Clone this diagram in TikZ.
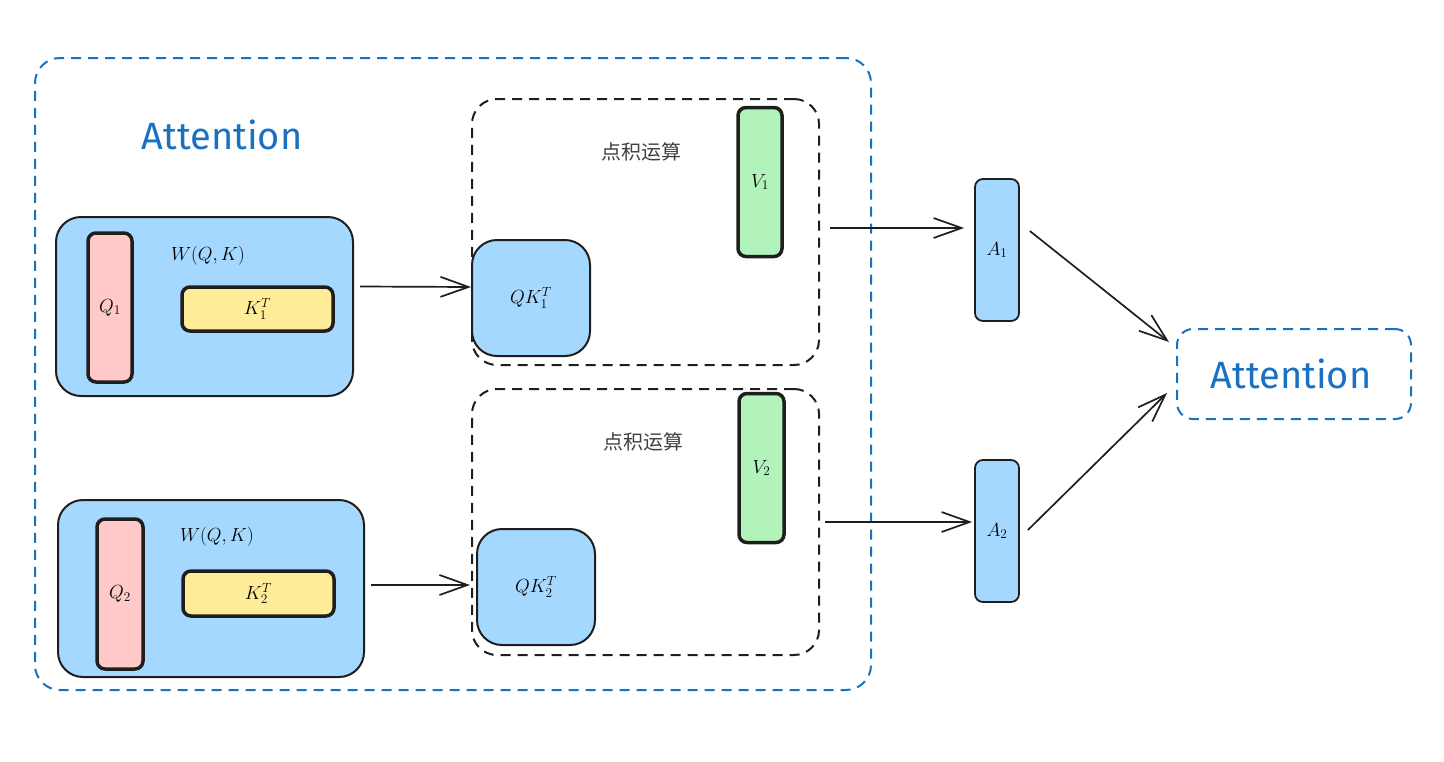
\RequirePackage{fix-cm}
\documentclass[tikz,border=0pt]{standalone}
\usepackage{fontspec}
\newfontfamily\cjk{Noto Sans CJK SC}
\newfontfamily\hand{Fira Sans}
\usetikzlibrary{arrows.meta}
\definecolor{stroke}{HTML}{1E1E1E}
\definecolor{bluefill}{HTML}{A5D8FF}
\definecolor{redfill}{HTML}{FFC9C9}
\definecolor{yellowfill}{HTML}{FFEC99}
\definecolor{greenfill}{HTML}{B2F2BB}
\definecolor{bluestroke}{HTML}{1971C2}
\tikzset{
  every node/.style={inner sep=0pt, font=\fontsize{19}{22}\selectfont},
  bigbox/.style={draw=stroke, line width=2pt, fill=bluefill, rounded corners=25pt},
  qbox/.style={draw=stroke, line width=3.5pt, fill=redfill, rounded corners=8pt},
  kbox/.style={draw=stroke, line width=3.5pt, fill=yellowfill, rounded corners=8pt},
  vbox/.style={draw=stroke, line width=3.5pt, fill=greenfill, rounded corners=8pt},
  qkbox/.style={draw=stroke, line width=2pt, fill=bluefill, rounded corners=25pt},
  abox/.style={draw=stroke, line width=1.8pt, fill=bluefill, rounded corners=8pt},
  dotbox/.style={draw=stroke, line width=2pt, dash pattern=on 10pt off 7pt, rounded corners=25pt},
  outerbox/.style={draw=bluestroke, line width=2pt, dash pattern=on 10pt off 7pt, rounded corners=25pt},
  attbox/.style={draw=bluestroke, line width=2pt, dash pattern=on 10pt off 7pt, rounded corners=16pt},
  titletext/.style={text=bluestroke, font=\hand\fontsize{38}{40}\selectfont},
  cjktext/.style={text=stroke!85, font=\cjk\fontsize{20}{22}\selectfont},
  arr/.style={draw=stroke, line width=1.7pt, -{Straight Barb[length=28pt,width=20pt,line width=1.7pt]}},
}
\begin{document}
\begin{tikzpicture}[x=1pt,y=-1pt]
\useasboundingbox (0,0) rectangle (1444,761);
% outer dashed
\node[outerbox, minimum width=836pt, minimum height=632pt] (outer) at (453,374) {};
\node[titletext] (title1) at (222,135) {Attention};
% W boxes
\node[bigbox, minimum width=297pt, minimum height=179pt] (w1) at (204.5,306.5) {};
\node[bigbox, minimum width=306pt, minimum height=177pt] (w2) at (211,588.5) {};
\node (wl1) at (208,256) {$W(Q,K)$};
\node (wl2) at (217,537) {$W(Q,K)$};
\node[qbox, minimum width=44pt, minimum height=149pt] (q1) at (110,307.5) {$Q_1$};
\node[kbox, minimum width=151pt, minimum height=44pt] (k1) at (257.5,309) {$K_1^T$};
\node[qbox, minimum width=46pt, minimum height=150pt] (q2) at (120,594) {$Q_2$};
\node[kbox, minimum width=151pt, minimum height=45pt] (k2) at (258.5,593.5) {$K_2^T$};
% dot product boxes
\node[dotbox, minimum width=347pt, minimum height=266pt] (d1) at (645.5,232) {};
\node[dotbox, minimum width=347pt, minimum height=266pt] (d2) at (645.5,522) {};
\node[cjktext] (c1) at (641,152) {点积运算};
\node[cjktext] (c2) at (643,442) {点积运算};
\node[vbox, minimum width=44pt, minimum height=149pt] (v1) at (760,182) {$V_1$};
\node[vbox, minimum width=45pt, minimum height=149pt] (v2) at (761.5,468) {$V_2$};
\node[qkbox, minimum width=118pt, minimum height=116pt] (qk1) at (531,298) {$QK_1^T$};
\node[qkbox, minimum width=118pt, minimum height=116pt] (qk2) at (536,587) {$QK_2^T$};
% A boxes
\node[abox, minimum width=44pt, minimum height=142pt] (a1) at (997,250) {$A_1$};
\node[abox, minimum width=44pt, minimum height=142pt] (a2) at (997,531) {$A_2$};
% final
\node[attbox, minimum width=234pt, minimum height=90pt] (att) at (1294,374) {};
\node[titletext] (title2) at (1291,374) {Attention};
% arrows
\draw[arr] ([xshift=6pt,yshift=20pt]w1.east) -- ([yshift=11pt]qk1.west);
\draw[arr] ([xshift=6pt,yshift=3.5pt]w2.east) -- ([xshift=-6pt,yshift=2pt]qk2.west);
\draw[arr] ([xshift=10pt,yshift=4pt]d1.east) -- ([xshift=-10pt,yshift=22pt]a1.west);
\draw[arr] ([xshift=5pt]d2.east) -- ([xshift=-2pt,yshift=9pt]a2.west);
\draw[arr] ([xshift=10pt,yshift=19pt]a1.east) -- ([xshift=-7pt,yshift=32pt]att.west);
\draw[arr] ([xshift=8pt,yshift=1pt]a2.east) -- ([xshift=-9pt,yshift=-19pt]att.west);
\end{tikzpicture}
\end{document}
